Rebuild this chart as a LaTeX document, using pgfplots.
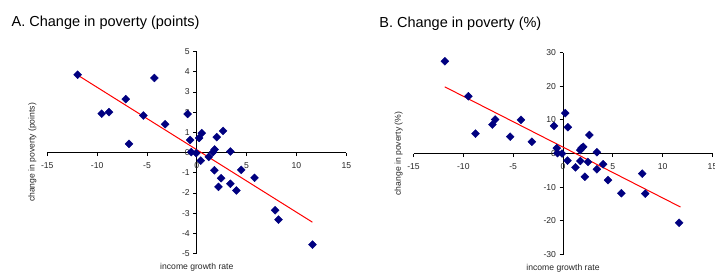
\documentclass[border=0pt]{standalone}
\usepackage{fontspec}
\setmainfont{Liberation Sans}
\usepackage{pgfplots}
\pgfplotsset{compat=1.18}
\definecolor{navyb}{RGB}{0,0,128}
\pgfplotsset{
  panel/.style={
    scale only axis, width=299pt, height=202pt,
    axis lines=middle,
    axis line style={-, black, line width=0.8pt},
    hide obscured x ticks=false, hide obscured y ticks=false,
    tick align=outside, major tick length=3.5pt,
    tick style={black, line width=0.7pt},
    /pgf/number format/assume math mode=true,
    ticklabel style={font=\fontsize{8.6}{10}\selectfont, text=black!85},
    xticklabel style={yshift=-3pt},
    xmin=-15, xmax=15, xtick={-15,-10,...,15},
    every axis x label/.style={at={(axis description cs:0.5,-0.07)}, anchor=center, font=\fontsize{8.6}{10}\selectfont, text=black!85},
    every axis y label/.style={at={(axis description cs:-0.05,0.5)}, rotate=90, anchor=center, font=\fontsize{8.6}{10}\selectfont, text=black!85},
    every axis title/.style={anchor=base west, font=\fontsize{14.5}{17}\selectfont},
    clip=false,
  },
  pts/.style={only marks, mark=square*, mark size=2.8pt, mark options={rotate=45, fill=navyb, draw=navyb}},
  fit/.style={red, line width=1pt, no marks},
}
\begin{document}
\begin{tikzpicture}
\begin{axis}[panel, at={(47.3pt,-253.5pt)}, anchor=south west,
  ymin=-5, ymax=5, ytick={-5,-4,...,5},
  xlabel={income growth rate}, ylabel={change in poverty (points)},
  title={A. Change in poverty (points)}, title style={at={(axis description cs:-0.131,1.125)}}]
\addplot[pts] coordinates {
(-11.95,3.85) (-9.54,1.92) (-8.80,2.00) (-7.13,2.64) (-6.80,0.43) (-5.36,1.83)
(-4.25,3.69) (-3.18,1.40) (-0.92,1.91) (-0.67,0.62) (-0.55,0.02) (-0.05,-0.03)
(0.23,0.72) (0.50,0.96) (0.40,-0.40) (1.20,-0.22) (1.62,0.02) (1.78,0.15)
(2.00,0.76) (2.64,1.07) (3.37,0.05) (1.77,-0.88) (2.44,-1.27) (2.17,-1.70)
(3.37,-1.55) (3.98,-1.88) (4.45,-0.86) (5.79,-1.25) (7.86,-2.86) (8.20,-3.32)
(11.60,-4.56)};
\addplot[fit] coordinates {(-11.95,3.83) (11.6,-3.45)};
\end{axis}
\begin{axis}[panel, at={(413.5pt,-254.5pt)}, anchor=south west,
  ymin=-30, ymax=30, ytick={-30,-20,...,30},
  xlabel={income growth rate}, ylabel={change in poverty (\%)},
  title={B. Change in poverty (\%)}, title style={at={(axis description cs:-0.126,1.125)}}]
\addplot[pts] coordinates {
(-11.85,27.4) (-9.50,17.0) (-8.78,5.9) (-7.08,8.6) (-6.80,10.1) (-5.30,5.0)
(-4.22,10.0) (-3.12,3.5) (-0.90,8.2) (-0.62,1.6) (-0.55,0.1) (-0.10,0.0)
(0.22,12.0) (0.48,7.8) (0.45,-2.1) (1.25,-4.1) (1.72,1.0) (1.86,1.6)
(2.03,2.0) (1.74,-2.2) (2.20,-6.9) (2.50,-2.5) (2.65,5.5) (3.40,0.4)
(3.40,-4.7) (4.02,-3.2) (4.52,-7.9) (5.85,-11.8) (7.95,-6.0) (8.25,-11.9)
(11.65,-20.6)};
\addplot[fit] coordinates {(-11.86,19.8) (11.79,-15.9)};
\end{axis}
\pgfresetboundingbox
\useasboundingbox (0pt,0pt) rectangle (715pt,-276pt);
\end{tikzpicture}
\end{document}
